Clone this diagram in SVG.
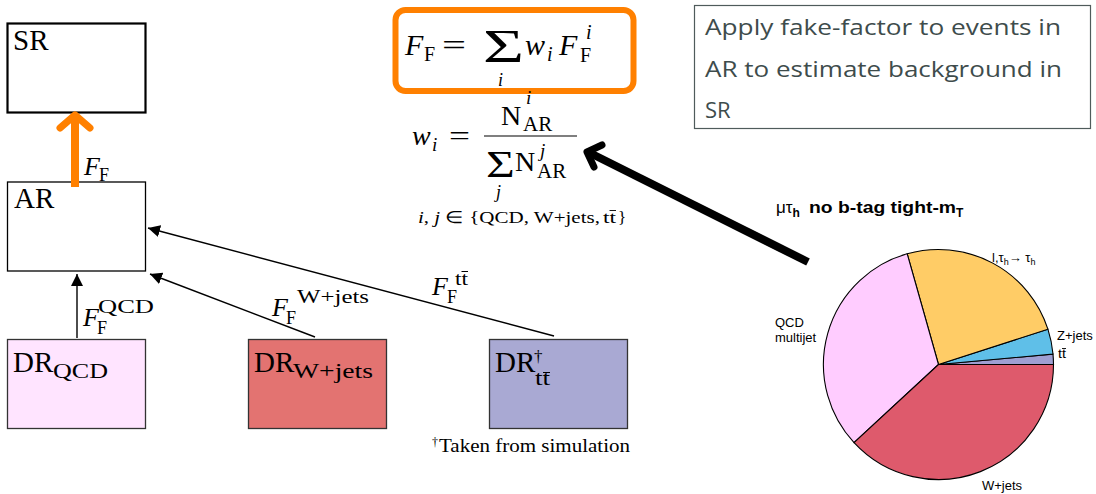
<svg xmlns="http://www.w3.org/2000/svg" width="1096" height="494" viewBox="0 0 1096 494">
<style>
.m{font-family:"Liberation Serif","Times New Roman",serif;fill:#000}
.it{font-style:italic}
.box{fill:#fff;stroke:#000;stroke-width:1.3}
.thin{stroke:#000;stroke-width:1.4;fill:none}
.pie{stroke:#000;stroke-width:1.1}
.s{font-family:"Liberation Sans",Arial,sans-serif;fill:#000}
.note{font-family:"Open Sans","Noto Sans",sans-serif;font-weight:400;font-size:22px;fill:#3e4c4c}
.bar{stroke:#000;stroke-width:1}
</style>
<defs>
<marker id="tri" viewBox="0 0 12 12" refX="12" refY="6" markerWidth="12" markerHeight="12" markerUnits="userSpaceOnUse" orient="auto">
<path d="M0,0 L12,6 L0,12 z" fill="#000"/>
</marker>
</defs>
<rect width="1096" height="494" fill="#fff"/>

<g id="SR">
<rect x="7.5" y="23.5" width="138" height="89" fill="#fff" stroke="#000" stroke-width="2.2"/>
<text class="m" x="13" y="50" font-size="29">SR</text>
</g>

<g id="AR">
<rect class="box" x="7.5" y="182" width="138" height="89"/>
<text class="m" x="14" y="208" font-size="29">AR</text>
</g>

<g id="DR_QCD">
<rect x="7.5" y="339.5" width="138" height="89" fill="#ffe4ff" stroke="#333" stroke-width="1.3"/>
<text class="m" x="13" y="372" font-size="29">DR</text>
<text class="m" x="53" y="378" font-size="21" textLength="55" lengthAdjust="spacingAndGlyphs">QCD</text>
</g>

<g id="DR_Wjets">
<rect x="248.5" y="339.5" width="138" height="89" fill="#e37371" stroke="#333" stroke-width="1.3"/>
<text class="m" x="254" y="372" font-size="29">DR</text>
<text class="m" x="293" y="378" font-size="21" textLength="80" lengthAdjust="spacingAndGlyphs">W+jets</text>
</g>

<g id="DR_tt">
<rect x="489.5" y="339.5" width="138" height="89" fill="#a9a9d3" stroke="#333" stroke-width="1.3"/>
<text class="m" x="495" y="372" font-size="29">DR</text>
<text class="m" x="534" y="362" font-size="17">†</text>
<text class="m" x="535" y="385" font-size="21" textLength="15" lengthAdjust="spacingAndGlyphs">tt</text>
<line class="bar" x1="543" y1="372.5" x2="550" y2="372.5"/>
<text class="m" x="432" y="446" font-size="12">†</text>
<text class="m" x="439" y="452" font-size="18" textLength="191" lengthAdjust="spacingAndGlyphs">Taken from simulation</text>
</g>

<g id="connectors">
<line class="thin" x1="77" y1="338" x2="77" y2="274" marker-end="url(#tri)"/>
<line class="thin" x1="315" y1="337" x2="150" y2="274" marker-end="url(#tri)"/>
<line class="thin" x1="554" y1="336" x2="148" y2="228" marker-end="url(#tri)"/>
<line x1="75" y1="187" x2="75" y2="117" stroke="#ff8000" stroke-width="8"/>
<polyline points="60,128 75,115 90,128" fill="none" stroke="#ff8000" stroke-width="7" stroke-linecap="round" stroke-linejoin="round"/>
<line x1="808" y1="262" x2="590" y2="153" stroke="#000" stroke-width="8"/>
<polyline points="602,145 587,152 594,167" fill="none" stroke="#000" stroke-width="7" stroke-linecap="round" stroke-linejoin="round"/>
</g>

<g id="labels">
<text class="m it" x="84" y="175" font-size="26">F</text>
<text class="m" x="99" y="181" font-size="18">F</text>
<text class="m it" x="83" y="326" font-size="26">F</text>
<text class="m" x="97" y="334" font-size="18">F</text>
<text class="m" x="98" y="313" font-size="19" textLength="56" lengthAdjust="spacingAndGlyphs">QCD</text>
<text class="m it" x="272" y="316" font-size="26">F</text>
<text class="m" x="286" y="324" font-size="18">F</text>
<text class="m" x="297" y="303" font-size="19" textLength="72" lengthAdjust="spacingAndGlyphs">W+jets</text>
<text class="m it" x="432" y="295" font-size="26">F</text>
<text class="m" x="447" y="303" font-size="18">F</text>
<text class="m" x="455" y="285" font-size="19" textLength="13" lengthAdjust="spacingAndGlyphs">tt</text>
<line class="bar" x1="461.5" y1="271.5" x2="468" y2="271.5"/>
</g>

<g id="formula_FF">
<rect x="395.5" y="10" width="238" height="81" rx="10" fill="#fff" stroke="#ff8000" stroke-width="6"/>
<text class="m it" x="405" y="55" font-size="30">F</text>
<text class="m" x="424" y="61" font-size="20">F</text>
<text class="m" x="442" y="55" font-size="30" textLength="24" lengthAdjust="spacingAndGlyphs">=</text>
<text class="m" font-size="47" transform="translate(483,62) scale(1.5,1)">Σ</text>
<text class="m it" x="498" y="86" font-size="18">i</text>
<text class="m it" x="525" y="55" font-size="30">w</text>
<text class="m it" x="547" y="61" font-size="20">i</text>
<text class="m it" x="559" y="55" font-size="30">F</text>
<text class="m it" x="586" y="39" font-size="20">i</text>
<text class="m" x="580" y="62" font-size="20">F</text>
</g>

<g id="formula_wi">
<text class="m it" x="412" y="145" font-size="28">w</text>
<text class="m it" x="432" y="151" font-size="19">i</text>
<text class="m" x="449" y="145" font-size="28" textLength="21" lengthAdjust="spacingAndGlyphs">=</text>
<line x1="484" y1="136" x2="577" y2="136" stroke="#000" stroke-width="1.2"/>
<text class="m" x="501" y="125" font-size="28">N</text>
<text class="m it" x="526" y="104" font-size="19">i</text>
<text class="m" x="523" y="131" font-size="21">AR</text>
<text class="m" font-size="38" transform="translate(486,177) scale(1.3,1)">Σ</text>
<text class="m it" x="496" y="198" font-size="18">j</text>
<text class="m" x="515" y="171" font-size="28">N</text>
<text class="m it" x="540" y="157" font-size="19">j</text>
<text class="m" x="537" y="178" font-size="21">AR</text>
<text class="m" x="418" y="223" font-size="17" textLength="182" lengthAdjust="spacingAndGlyphs"><tspan font-style="italic">i</tspan>, <tspan font-style="italic">j</tspan> ∈ {QCD, W+jets,</text>
<text class="m" x="603" y="223" font-size="17" textLength="13" lengthAdjust="spacingAndGlyphs">tt</text>
<text class="m" x="618" y="223" font-size="17">}</text>
<line x1="609.5" y1="210.5" x2="616" y2="210.5" stroke="#000" stroke-width="0.9"/>
</g>

<g id="note">
<rect x="694.5" y="5.5" width="396" height="123" fill="#fff" stroke="#4f5b5b" stroke-width="1.2"/>
<text class="note" x="705" y="35" textLength="356" lengthAdjust="spacingAndGlyphs">Apply fake-factor to events in</text>
<text class="note" x="705" y="77" textLength="357" lengthAdjust="spacingAndGlyphs">AR to estimate background in</text>
<text class="note" x="705" y="118" font-size="23">SR</text>
</g>

<g id="pie">
<text class="s" x="776" y="213" font-size="17">μτ<tspan font-weight="bold" font-size="12" dy="4">h</tspan></text>
<text class="s" x="809" y="213" font-size="17" font-weight="bold" textLength="147" lengthAdjust="spacingAndGlyphs">no b-tag tight-m</text>
<text class="s" x="956" y="217" font-size="12" font-weight="bold">T</text>
<path class="pie" fill="#9f9fd2" d="M938.5,364.5 L1053.5,364.5 A115,115 0 0 0 1053,354.1 Z"/>
<path class="pie" fill="#5fbfe8" d="M938.5,364.5 L1053,354.1 A115,115 0 0 0 1047.9,329.2 Z"/>
<path class="pie" fill="#ffcc66" d="M938.5,364.5 L1047.9,329.2 A115,115 0 0 0 907.2,253.8 Z"/>
<path class="pie" fill="#ffccff" d="M938.5,364.5 L907.2,253.8 A115,115 0 0 0 854.05,442.6 Z"/>
<path class="pie" fill="#de5a6c" d="M938.5,364.5 L854.05,442.6 A115,115 0 0 0 1053.5,364.5 Z"/>
<text class="s" x="992" y="262" font-size="13">l,τ<tspan font-size="9" dy="3">h</tspan><tspan dy="-3">→ τ</tspan><tspan font-size="9" dy="3">h</tspan></text>
<text class="s" x="1057" y="340" font-size="13">Z+jets</text>
<text class="s" x="1058" y="358" font-size="13" textLength="8" lengthAdjust="spacingAndGlyphs">tt</text>
<line x1="1062" y1="348.5" x2="1066" y2="348.5" stroke="#000" stroke-width="0.9"/>
<text class="s" x="775" y="327" font-size="13">QCD</text>
<text class="s" x="775" y="342" font-size="13">multijet</text>
<text class="s" x="982" y="490" font-size="13">W+jets</text>
</g>
</svg>
